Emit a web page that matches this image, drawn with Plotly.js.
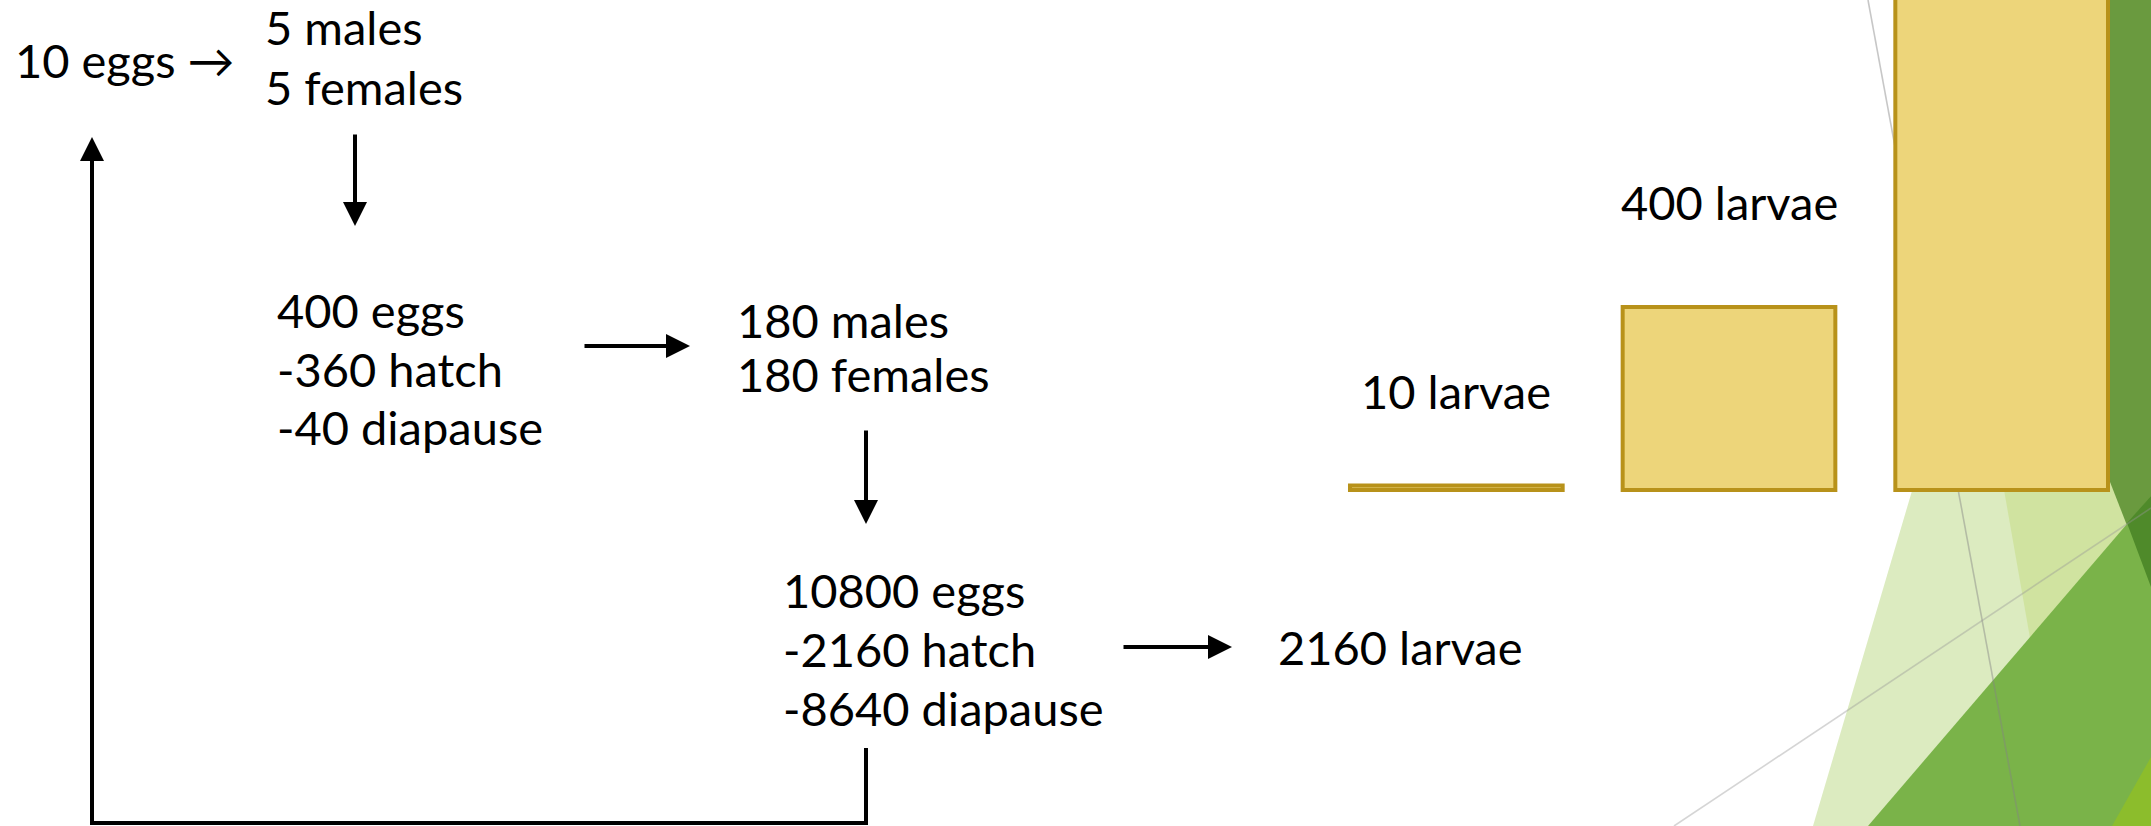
<!DOCTYPE html>
<html>
<head>
<meta charset="utf-8">
<script src="https://cdn.plot.ly/plotly-3.0.1.min.js"></script>
<style>
  html, body { margin: 0; padding: 0; background: #ffffff; }
  #chart { width: 2151px; height: 826px; }
</style>
</head>
<body>
<div id="chart"></div>
<script>
// ---- data ----
const categories = ['10 larvae', '400 larvae', '2160 larvae'];
const larvae = [10, 400, 2160];

const startText = '10 eggs \u2192';
const gen1Adults = ['5 males', '5 females'];
const gen1Eggs = ['400 eggs', '-360 hatch', '-40 diapause'];
const gen2Adults = ['180 males', '180 females'];
const gen2Eggs = ['10800 eggs', '-2160 hatch', '-8640 diapause'];
const gen2Larvae = '2160 larvae';

// ---- layout helpers ----
const W = 2151, H = 826;
const px = x => x / W;
const py = y => 1 - y / H;
const FONT = { family: 'Lato, "Noto Sans", sans-serif', size: 47, color: '#000000' };

const annotations = [];
function textAt(t, x, y) {
  annotations.push({
    text: t, xref: 'paper', yref: 'paper', x: px(x), y: py(y),
    xanchor: 'left', yanchor: 'middle', showarrow: false, font: FONT
  });
}
function block(lines, x, y0, step) {
  lines.forEach((t, i) => textAt(t, x, y0 + i * step));
}
function arrow(hx, hy, ax, ay) {
  annotations.push({
    text: '', xref: 'paper', yref: 'paper', x: px(hx), y: py(hy),
    ax: ax, ay: ay, showarrow: true, arrowhead: 2, arrowsize: 1.2,
    arrowwidth: 4, arrowcolor: '#000000'
  });
}

textAt(startText, 13, 60);
block(gen1Adults, 263, 27, 60);
block(gen1Eggs, 275, 310, 58.5);
block(gen2Adults, 735, 320, 54);
block(gen2Eggs, 781, 590, 59);
textAt(gen2Larvae, 1276, 647);

arrow(355, 226, 0, -93);
arrow(690, 346, -107, 0);
arrow(866, 524, 0, -95);
arrow(1232, 647, -110, 0);
arrow(92, 137, 0, 686);

// bar value labels (first two bars; the tallest runs off the slide)
const labelShift = [95, 105];
[0, 1].forEach(i => {
  annotations.push({
    text: categories[i], xref: 'x', yref: 'y', x: categories[i], y: larvae[i],
    yshift: labelShift[i], xanchor: 'center', yanchor: 'middle',
    showarrow: false, font: FONT
  });
});

// ---- background decoration (slide theme facets) ----
function poly(pts, color, layer) {
  const d = 'M ' + pts.map(p => px(p[0]) + ',' + py(p[1])).join(' L ') + ' Z';
  return { type: 'path', xref: 'paper', yref: 'paper', path: d,
           fillcolor: color, line: { width: 0 }, layer: layer || 'below' };
}
function seg(pts, color, width) {
  const d = 'M ' + pts.map(p => px(p[0]) + ',' + py(p[1])).join(' L ');
  return { type: 'path', xref: 'paper', yref: 'paper', path: d,
           line: { color: color, width: width }, layer: 'below' };
}

const shapes = [
  poly([[1813, 826], [2057, 0], [2151, 0], [2151, 826]], '#dcebc0'),
  poly([[2063, 826], [1918, 0], [2151, 0], [2151, 826]], '#d0e3a0'),
  poly([[1922, 0], [2151, 0], [2151, 587]], '#6a9a3f'),
  poly([[1868, 826], [2151, 496], [2151, 826]], '#7ab349'),
  poly([[2127, 523], [2151, 496], [2151, 587]], '#4f8a2a'),
  poly([[2112, 826], [2151, 757], [2151, 826]], '#8cbd2c'),
  seg([[1868, 0], [2020, 826]], 'rgba(130,130,130,0.45)', 1.6),
  seg([[1674, 826], [2151, 508]], 'rgba(150,150,150,0.4)', 1.6),
  // feedback loop back to the start
  { type: 'path', xref: 'paper', yref: 'paper',
    path: 'M ' + px(866) + ',' + py(748) + ' L ' + px(866) + ',' + py(823) +
          ' L ' + px(92) + ',' + py(823) + ' L ' + px(92) + ',' + py(800),
    line: { color: '#000000', width: 4 }, layer: 'above' }
];

const trace = {
  type: 'bar', x: categories, y: larvae,
  marker: { color: '#EDD57A', line: { color: '#B8921A', width: 4 } },
  hoverinfo: 'skip', showlegend: false
};

const layout = {
  width: W, height: H,
  margin: { l: 0, r: 0, t: 0, b: 0, pad: 0 },
  paper_bgcolor: '#ffffff', plot_bgcolor: 'rgba(0,0,0,0)',
  bargap: 0.22,
  xaxis: { type: 'category', domain: [1320 / W, 2138 / W], range: [-0.5, 2.5],
           visible: false, fixedrange: true },
  yaxis: { range: [-734, 1071], domain: [0, 1], visible: false, fixedrange: true },
  annotations: annotations,
  shapes: shapes,
  showlegend: false
};

Plotly.newPlot('chart', [trace], layout, { displayModeBar: false, staticPlot: true });
</script>
</body>
</html>
